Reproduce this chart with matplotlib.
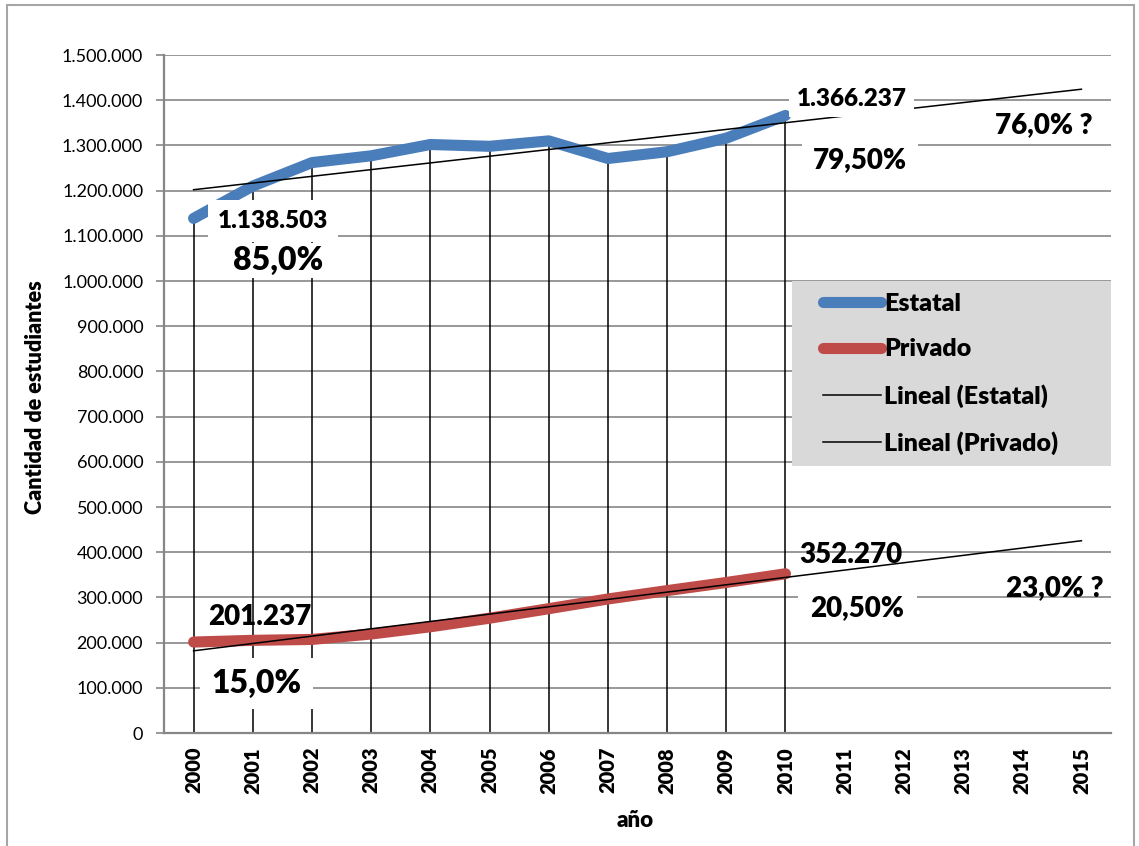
import numpy as np
import matplotlib
matplotlib.use("Agg")
import matplotlib.pyplot as plt
from matplotlib.ticker import MultipleLocator, FuncFormatter
from matplotlib.patches import Rectangle

plt.rcParams['font.family'] = ['Lato', 'DejaVu Sans']

# ---- data ----
years = ['2000', '2001', '2002', '2003', '2004', '2005', '2006', '2007',
         '2008', '2009', '2010', '2011', '2012', '2013', '2014', '2015']
estatal = [1138503, 1210000, 1262000, 1277000, 1302000, 1298000, 1310000,
           1271000, 1286000, 1316000, 1366237]
privado = [201237, 205000, 207000, 219000, 235000, 254000, 275000, 296500,
           315000, 333000, 352270]

# annotation texts: (text, x index, y value, fontsize, white background pad or None)
annotations = [
    ('1.138.503', 1.34, 1133000, 17.5, 0.42),
    ('85,0%', 1.43, 1045000, 23, 0.10),
    ('1.366.237', 11.12, 1403000, 17.5, 0.30),
    ('79,50%', 11.26, 1268000, 20, 0.40),
    ('76,0% ?', 14.36, 1345000, 20, None),
    ('352.270', 11.10, 394000, 20, None),
    ('20,50%', 11.21, 276000, 20, 0.45),
    ('23,0% ?', 14.55, 321000, 20, None),
    ('201.237', 1.12, 257000, 20, None),
    ('15,0%', 1.06, 110000, 23, 0.35),
]

BLUE = '#4A7EBB'
RED = '#BE4B48'
GRID = '#868686'
HEAVY = 'heavy'

fig = plt.figure(figsize=(11.39, 8.46), dpi=100)
ax = fig.add_axes([164/1139, 1 - 733/846, (1111 - 164)/1139, (733 - 55)/846])

xi = np.arange(len(years))
xd = np.arange(len(estatal))

ax.set_xlim(-0.5, len(years) - 0.5)
ax.set_ylim(0, 1500000)

# drop lines
ax.vlines(xd, 0, estatal, color='black', lw=1.1, zorder=2)

# series
l_est, = ax.plot(xd, estatal, color=BLUE, lw=8, solid_capstyle='round',
                 solid_joinstyle='round', zorder=3, label='Estatal')
l_pri, = ax.plot(xd, privado, color=RED, lw=8, solid_capstyle='round',
                 solid_joinstyle='round', zorder=3, label='Privado')

# linear trends (forecast to 2015)
ce = np.polyfit(xd, estatal, 1)
cp = np.polyfit(xd, privado, 1)
t_est, = ax.plot(xi, np.polyval(ce, xi), color='black', lw=1.1, zorder=4,
                 label='Lineal (Estatal)')
t_pri, = ax.plot(xi, np.polyval(cp, xi), color='black', lw=1.1, zorder=4,
                 label='Lineal (Privado)')

# axes styling
ax.set_xticks(xi)
ax.set_xticklabels(years, rotation=90, fontweight=HEAVY, fontsize=14.5)
ax.tick_params(axis='x', length=0, pad=10)
ax.yaxis.set_major_locator(MultipleLocator(100000))
ax.yaxis.set_major_formatter(FuncFormatter(lambda v, p: f"{int(round(v)):,}".replace(',', '.')))
ax.tick_params(axis='y', length=6, width=1.2, color=GRID, pad=9, labelsize=13)
ax.grid(axis='y', color=GRID, lw=1.2, zorder=0)
ax.set_axisbelow(True)
for s in ['top', 'right']:
    ax.spines[s].set_visible(False)
for s in ['left', 'bottom']:
    ax.spines[s].set_color(GRID)
    ax.spines[s].set_linewidth(1.6)

ax.set_ylabel('Cantidad de estudiantes', fontweight=HEAVY, fontsize=15.5)
ax.yaxis.set_label_coords(-0.1246, 0.496)
ax.set_xlabel('año', fontweight=HEAVY, fontsize=16)
ax.xaxis.set_label_coords(0.498, -0.113)

# annotations
for txt, x, y, fs, pad in annotations:
    kw = {}
    if pad is not None:
        kw['bbox'] = dict(boxstyle=f'square,pad={pad}', fc='white', ec='none')
    ax.text(x, y, txt, ha='center', va='center', fontsize=fs,
            fontweight=HEAVY, zorder=10, **kw)

# legend background and legend
ax.add_patch(Rectangle((0.663, 0.394), 0.337, 0.2727, transform=ax.transAxes,
                       fc='#D9D9D9', ec='none', zorder=6, clip_on=False))
leg = ax.legend([l_est, l_pri, t_est, t_pri],
                ['Estatal', 'Privado', 'Lineal (Estatal)', 'Lineal (Privado)'],
                loc='upper left', bbox_to_anchor=(0.696, 0.649), frameon=False,
                borderpad=0, borderaxespad=0, handlelength=2.3,
                handletextpad=0.15, labelspacing=0.94,
                prop={'weight': HEAVY, 'size': 18})
leg.set_zorder(7)

# figure border
fig.add_artist(Rectangle((7/1139, -0.01), (1134 - 7)/1139, 1.01 - 5/846,
                         transform=fig.transFigure, fill=False,
                         ec='#A6A6A6', lw=1.5))

fig.savefig('out.png', dpi=100, facecolor='white')
